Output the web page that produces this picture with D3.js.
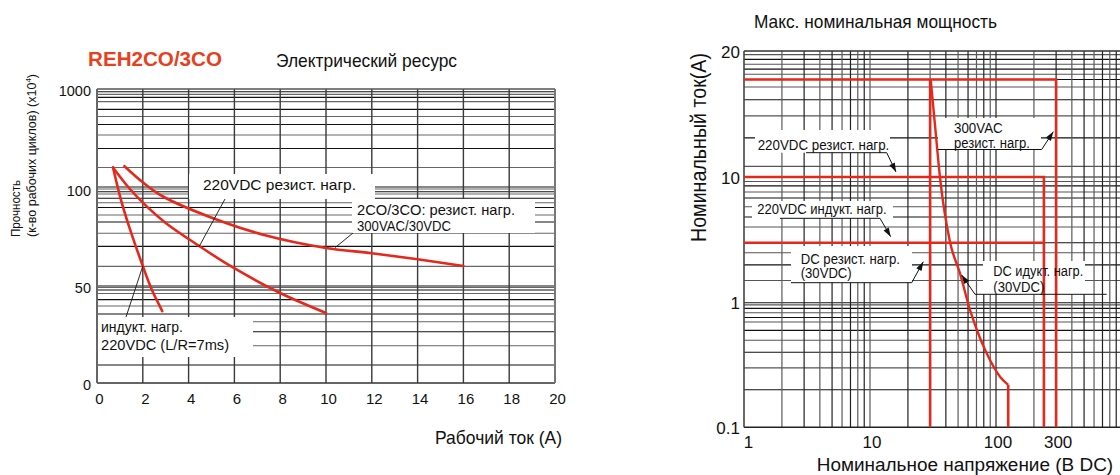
<!DOCTYPE html>
<html><head><meta charset="utf-8">
<script src="https://cdn.jsdelivr.net/npm/d3@7"></script>
<style>body{margin:0;background:#fff}svg{display:block}</style>
</head><body>
<svg id="c" width="1120" height="475"></svg>
<script>
// ---------------- DATA: left chart (electrical life) ----------------
const lifeXTicks = [0, 2, 4, 6, 8, 10, 12, 14, 16, 18, 20];
const lifeYTicks = [0, 50, 100, 1000];
const lifeYGrid = [9.3, 19.2, 26.4, 31.6, 35.6, 39.7, 43, 46.1, 47.9, 49.2, 50,
  60.1, 70.4, 77.2, 83, 86.6, 90.5, 92.9, 95.2, 97.4, 98.6, 100,
  118, 293.5, 464.5, 586, 680.5, 752.5, 817, 886, 925, 952, 975.5];
// 220VDC inductive load (L/R=7ms)
const indX = [0.7, 1.05, 1.45, 2.0, 2.4, 2.85];
const indY = [294, 94.3, 78.9, 60.3, 47.9, 37.1];
// 220VDC resistive load
const res220X = [0.7, 1.4, 2.18, 3.0, 4.4, 5.9, 8.0, 10.0];
const res220Y = [294, 109, 90.9, 82.5, 71.1, 59.8, 46.4, 36.1];
// 2CO/3CO resistive 300VAC/30VDC
const res300X = [1.2, 2.0, 2.9, 5.1, 7.3, 10.0, 12.0, 14.0, 16.0];
const res300Y = [305, 160, 96, 84.8, 76.3, 69.6, 66.9, 63.8, 60.3];

// ---------------- DATA: right chart (max rating) ----------------
const ratXTicks = [1, 10, 100, 300];
const ratYTicks = [0.1, 1, 10, 20];
const ratXGrid = [2,3,4,5,6,7,8,9,10,20,30,40,50,60,70,80,90,100,200,300,400,500,600,700,800,900];
const ratYGrid = [0.2,0.3,0.4,0.5,0.6,0.7,0.76,0.83,0.9,0.96,1,
  1.5,2,2.5,3,4,4.8,5.8,6.8,7.6,8.5,9.2,10,
  10.6,12.4,14.0,15.3,16.4,17.1,17.6,18.1,18.6,19.1,19.6];
// red limit lines [voltage, current]
const acRes300 = [[1,17.1],[300,17.1],[300,0.1]];
const dcRes220 = [[1,10],[240,10],[240,0.1]];
const dcInd220 = [[1,3],[240,3]];
const dcRes30 = [[30,17.1],[30,0.1]];
const dcInd30V = [30.3, 32.8, 35.9, 43.1, 51.8, 62.2, 74.6, 89.6, 107.6, 125];
const dcInd30I = [17.1, 13.3, 10, 3.06, 1.71, 0.874, 0.521, 0.347, 0.255, 0.219];
const dcInd30Tail = [[125,0.219],[125,0.1]];

// ---------------- DRAW ----------------
const FONT = '"Liberation Sans", Arial, Helvetica, sans-serif';
const RED = '#e5281c';
const svg = d3.select('#c').style('font-family', FONT);

function txt(g, t, x, y, o = {}) {
  const e = g.append('text').text(t).attr('x', x).attr('y', y)
    .attr('font-size', o.fs || 15).attr('fill', o.fill || '#111')
    .attr('font-weight', o.fw || 'normal');
  if (o.w) e.attr('textLength', o.w).attr('lengthAdjust', 'spacingAndGlyphs');
  if (o.anchor) e.attr('text-anchor', o.anchor);
  if (o.rot) e.attr('transform', `rotate(-90,${x},${y})`);
  return e;
}
function arrowHead(g, from, tip) {
  const dx = tip[0]-from[0], dy = tip[1]-from[1], L = Math.hypot(dx,dy);
  const ux = dx/L, uy = dy/L, len = 9, hw = 3;
  const bx = tip[0]-ux*len, by = tip[1]-uy*len;
  g.append('path').attr('d', `M${tip[0]},${tip[1]}L${bx-uy*hw},${by+ux*hw}L${bx+uy*hw},${by-ux*hw}Z`).attr('fill', '#111');
}

// ===== Left chart =====
const xL = d3.scaleLinear().domain([0, 20]).range([97, 555]);
const yL = d3.scaleLinear().domain([0, 50, 100, 1000]).range([383, 286, 189, 89]);
const gL = svg.append('g');

gL.selectAll('line.h').data(lifeYGrid).join('line')
  .attr('x1', xL(0)).attr('x2', xL(20)).attr('y1', d => yL(d)).attr('y2', d => yL(d))
  .attr('stroke', (d, i) => i % 2 ? '#666' : '#111').attr('stroke-width', 1.1);
gL.selectAll('line.v').data(lifeXTicks.slice(1, -1)).join('line')
  .attr('x1', d => xL(d)).attr('x2', d => xL(d)).attr('y1', yL(1000)).attr('y2', yL(0))
  .attr('stroke', '#3a3a3a').attr('stroke-width', 1.4);
gL.append('line').attr('x1', xL(0)).attr('x2', xL(20)).attr('y1', yL(1000)).attr('y2', yL(1000)).attr('stroke', '#555').attr('stroke-width', 1.5);
gL.append('line').attr('x1', xL(0)).attr('x2', xL(20)).attr('y1', yL(0)).attr('y2', yL(0)).attr('stroke', '#333').attr('stroke-width', 1.5);
gL.append('line').attr('x1', xL(0)).attr('x2', xL(0)).attr('y1', yL(1000)).attr('y2', yL(0)).attr('stroke', '#666').attr('stroke-width', 2);
gL.append('line').attr('x1', xL(20)).attr('x2', xL(20)).attr('y1', yL(1000)).attr('y2', yL(0)).attr('stroke', '#777').attr('stroke-width', 2);

// annotation boxes (left)
const lifeNotes = [
  {box: [189, 174, 375, 199], lines: [{t: '220VDC резист. нагр.', x: 203, y: 190, w: 153}], from: [225, 199], tip: [4.45, 70.1]},
  {box: [352, 199, 535, 233], lines: [{t: '2CO/3CO: резист. нагр.', x: 357, y: 215, w: 158}, {t: '300VAC/30VDC', x: 357, y: 230.7, w: 94}], from: [353, 233], tip: [10.4, 69.8]},
  {box: [98, 317, 253, 357], lines: [{t: 'индукт. нагр.', x: 101, y: 331.7, w: 82}, {t: '220VDC (L/R=7ms)', x: 101, y: 350, w: 128}], from: [126, 317], tip: [2.0, 60.3]}
];
lifeNotes.forEach(n => gL.append('rect').attr('x', n.box[0]).attr('y', n.box[1])
  .attr('width', n.box[2]-n.box[0]).attr('height', n.box[3]-n.box[1]).attr('fill', '#fff'));

const lineL = d3.line().x(d => xL(d[0])).y(d => yL(d[1])).curve(d3.curveCatmullRom.alpha(0.5));
[[indX, indY], [res220X, res220Y], [res300X, res300Y]].forEach(([xs, ys]) => {
  gL.append('path').datum(xs.map((x, i) => [x, ys[i]])).attr('d', lineL)
    .attr('fill', 'none').attr('stroke', RED).attr('stroke-width', 2.6).attr('stroke-linecap', 'round');
});
lifeNotes.forEach(n => {
  gL.append('line').attr('x1', n.from[0]).attr('y1', n.from[1]).attr('x2', xL(n.tip[0])).attr('y2', yL(n.tip[1]))
    .attr('stroke', '#111').attr('stroke-width', 0.9);
  n.lines.forEach(l => txt(gL, l.t, l.x, l.y, {fs: 15, w: l.w}));
});

// axes left
const axLx = gL.append('g').attr('transform', `translate(0,${yL(0)})`)
  .call(d3.axisBottom(xL).tickValues(lifeXTicks).tickFormat(d3.format('d')).tickSize(0).tickPadding(10));
axLx.select('.domain').remove();
axLx.selectAll('text').attr('font-size', 15).attr('font-family', FONT).attr('fill', '#111').attr('dx', 2);
const axLy = gL.append('g').attr('transform', `translate(${xL(0)},0)`)
  .call(d3.axisLeft(yL).tickValues(lifeYTicks).tickFormat(d3.format('d')).tickSize(0).tickPadding(6));
axLy.select('.domain').remove();
axLy.selectAll('text').attr('font-size', 14.5).attr('font-family', FONT).attr('fill', '#111').attr('dy', '0.42em');

txt(gL, 'REH2CO/3CO', 88, 66, {fs: 20, fw: 'bold', fill: '#e8401c', w: 134});
txt(gL, 'Электрический ресурс', 276, 66.5, {fs: 18.5, w: 181});
txt(gL, 'Рабочий ток (А)', 435, 443.5, {fs: 19, w: 127});
txt(gL, 'Прочность', 20, 237, {fs: 12.5, rot: true, w: 57});
const yl2 = txt(gL, '', 36, 237, {fs: 12.5, rot: true});
yl2.append('tspan').text('(к-во рабочих циклов) (x10');
yl2.append('tspan').text('4').attr('font-size', 8).attr('dy', -5);
yl2.append('tspan').text(')').attr('dy', 5);

// ===== Right chart =====
const xR = d3.scaleLog().domain([1, 1000]).range([744, 1122]);
const yR = d3.scaleLog().domain([0.1, 1, 10, 20]).range([427.3, 302.7, 177, 51]);
const gR = svg.append('g');

gR.selectAll('line.h').data(ratYGrid).join('line')
  .attr('x1', xR(1)).attr('x2', xR(1000)).attr('y1', d => yR(d)).attr('y2', d => yR(d))
  .attr('stroke', (d, i) => i % 2 ? '#555' : '#111').attr('stroke-width', 1.1);
gR.selectAll('line.v').data(ratXGrid).join('line')
  .attr('x1', d => xR(d)).attr('x2', d => xR(d)).attr('y1', yR(20)).attr('y2', yR(0.1))
  .attr('stroke', (d, i) => i % 2 ? '#222' : '#5a5a5a').attr('stroke-width', 1.2);
gR.append('line').attr('x1', xR(1)).attr('x2', xR(1000)).attr('y1', yR(20)).attr('y2', yR(20)).attr('stroke', '#333').attr('stroke-width', 1.4);
gR.append('line').attr('x1', xR(1)).attr('x2', xR(1000)).attr('y1', yR(0.1)).attr('y2', yR(0.1)).attr('stroke', '#222').attr('stroke-width', 1.5);
gR.append('line').attr('x1', xR(1)).attr('x2', xR(1)).attr('y1', yR(20)).attr('y2', yR(0.1)).attr('stroke', '#444').attr('stroke-width', 1.6);

const ratNotes = [
  {box: [755, 130, 890, 152.7], lines: [{t: '220VDC резист. нагр.', x: 757.7, y: 150, w: 131.6}], lead: [[806, 152.7], [886.7, 152.7], [896, 172]]},
  {box: [938, 118, 1041, 149.5], lines: [{t: '300VAC', x: 954, y: 133.3, w: 48.7, fs: 15}, {t: 'резист. нагр.', x: 954, y: 148, w: 76}], lead: [[938, 149.5], [1041.7, 149.5], [1053.3, 131.7]]},
  {box: [752, 201, 893, 218.3], lines: [{t: '220VDC индукт. нагр.', x: 757.3, y: 214, w: 129.4}], lead: [[780, 218.3], [880, 218.3], [890.7, 236.7]]},
  {box: [791, 246, 912, 282.7], lines: [{t: 'DC резист. нагр.', x: 800.7, y: 264, w: 99.3}, {t: '(30VDC)', x: 800.7, y: 278.3, w: 51}], lead: [[791, 282.7], [911.7, 282.7], [923.3, 261.7]]},
  {box: [983, 261, 1085, 294.3], lines: [{t: 'DC идукт. нагр.', x: 993.3, y: 276, w: 90}, {t: '(30VDC)', x: 993.3, y: 291.7, w: 51}], lead: [[1106.7, 294.3], [975, 294.3], [961.7, 275]]}
];
ratNotes.forEach(n => gR.append('rect').attr('x', n.box[0]).attr('y', n.box[1])
  .attr('width', n.box[2]-n.box[0]).attr('height', n.box[3]-n.box[1]).attr('fill', '#fff'));

const lineR = d3.line().x(d => xR(d[0])).y(d => yR(d[1]));
[acRes300, dcRes220, dcInd220, dcRes30, dcInd30Tail].forEach(s => {
  gR.append('path').datum(s).attr('d', lineR).attr('fill', 'none').attr('stroke', RED).attr('stroke-width', 2.6);
});
gR.append('path').datum(dcInd30V.map((v, i) => [v, dcInd30I[i]]))
  .attr('d', lineR.curve(d3.curveMonotoneX)).attr('fill', 'none').attr('stroke', RED).attr('stroke-width', 2.4);

ratNotes.forEach(n => {
  gR.append('path').attr('d', d3.line()(n.lead)).attr('fill', 'none').attr('stroke', '#111').attr('stroke-width', 1);
  arrowHead(gR, n.lead[n.lead.length-2], n.lead[n.lead.length-1]);
  n.lines.forEach(l => txt(gR, l.t, l.x, l.y, {fs: l.fs || 14, w: l.w}));
});

const axRx = gR.append('g').attr('transform', `translate(0,${yR(0.1)})`)
  .call(d3.axisBottom(xR).tickValues(ratXTicks).tickFormat(d3.format('~g')).tickSize(0).tickPadding(9));
axRx.select('.domain').remove();
axRx.selectAll('text').attr('font-size', 17).attr('font-family', FONT).attr('fill', '#111')
  .attr('dx', d => d === 1 ? 4 : 1.5);
const axRy = gR.append('g').attr('transform', `translate(${xR(1)},0)`)
  .call(d3.axisLeft(yR).tickValues(ratYTicks).tickFormat(d3.format('~g')).tickSize(0).tickPadding(4));
axRy.select('.domain').remove();
axRy.selectAll('text').attr('font-size', 17).attr('font-family', FONT).attr('fill', '#111').attr('dy', '0.36em');

txt(gR, 'Макс. номинальная мощность', 754, 28.3, {fs: 18.5, w: 243});
txt(gR, 'Номинальный ток(А)', 706, 242, {fs: 21.5, rot: true, w: 189});
txt(gR, 'Номинальное напряжение (В DC)', 816.7, 470.5, {fs: 18.8, w: 296.5});
</script>
</body></html>
